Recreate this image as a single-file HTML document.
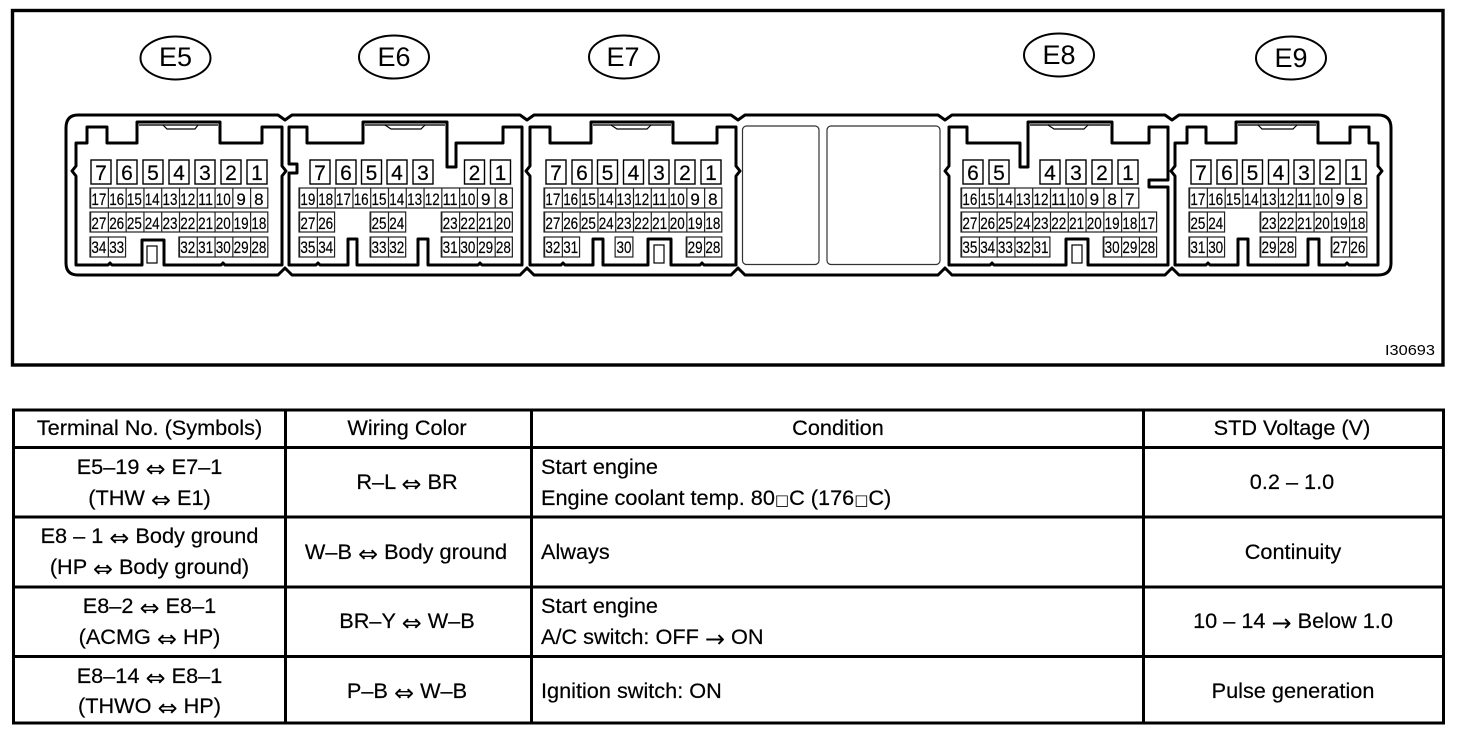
<!DOCTYPE html>
<html><head><meta charset="utf-8"><style>
html,body{margin:0;padding:0;background:#fff}
svg{display:block}
text{font-family:"Liberation Sans","DejaVu Sans",sans-serif;fill:#000}
.t text{font-size:21.7px;stroke:#000;stroke-width:.2}
.a{font-family:"DejaVu Sans",sans-serif;font-size:24px;baseline-shift:-3px;stroke-width:0}
.s{font-family:"DejaVu Sans",sans-serif;font-size:15px;stroke-width:0}
.m{text-anchor:middle}
.o{fill:none;stroke:#000;stroke-width:3;stroke-linejoin:round}
.b rect{fill:none;stroke:#000;stroke-width:1.4}
.b text{font-size:21px;text-anchor:middle;stroke:#000;stroke-width:.2}
.c rect{fill:none;stroke:#222;stroke-width:1.2}
.c path{fill:none;stroke:#222;stroke-width:20;stroke-dasharray:1.2 16.58}
.c text{font-size:17px;text-anchor:middle;stroke:#000;stroke-width:.2}
.k{fill:none;stroke:#000;stroke-width:1.2}
.l{font-size:27px;text-anchor:middle}
.e{fill:none;stroke:#000;stroke-width:2}
.g{fill:none;stroke:#555;stroke-width:2}
</style></head><body>
<svg width="1472" height="740" viewBox="0 0 1472 740" xmlns="http://www.w3.org/2000/svg">
<rect width="1472" height="740" fill="#fff"/>
<rect x="12.5" y="10.5" width="1430.5" height="354.5" fill="none" stroke="#000" stroke-width="3.4"/>
<ellipse class="e" cx="175.5" cy="58" rx="35" ry="21.5"/><text class="l" x="175.5" y="66">E5</text>
<ellipse class="e" cx="394" cy="57" rx="35" ry="21.5"/><text class="l" x="394" y="66">E6</text>
<ellipse class="e" cx="624" cy="57" rx="35" ry="21.5"/><text class="l" x="623" y="66">E7</text>
<ellipse class="e" cx="1059" cy="55" rx="35" ry="21.5"/><text class="l" x="1059" y="64">E8</text>
<ellipse class="e" cx="1291" cy="58" rx="35" ry="21.5"/><text class="l" x="1291" y="67">E9</text>
<text x="1385" y="355" font-size="15" textLength="50" lengthAdjust="spacingAndGlyphs">I30693</text>

<path class="o" d="M78 115H278L285 120L292 115H520L527 120L534 115H731L738 120L745 115H938L945 120L952 115H1165L1172 120L1179 115H1378Q1391 115 1391 128V263Q1391 275 1378 275H1179L1172 268L1165 275H952L945 268L938 275H745L738 268L731 275H534L527 268L520 275H292L285 268L278 275H78Q66 275 66 263V128Q66 115 78 115Z"/>

<!-- housings -->
<path class="o" d="M76 143H87V127H107V143H137V122H220V143H262V127H282V166L286 171L282 176V265H225L223 263L221 265H164V240H142V265H112L110 263L108 265H76V176L72 171L76 166Z"/>
<path class="o" d="M289 127H307V143H363V122H447V167H456V143H503V127H522V265H482L480 263L478 265H428V239H418V265H357V239H348V265H320L318 263L316 265H289V173H297V164H289Z"/>
<path class="o" d="M530 127H550V143H591V122H673V143H717V127H736V166L740 171L736 176V265H704L702 263L700 265H671V239H648V265H603V239H593V265H565L563 263L561 265H530V176L526 171L530 166Z"/>
<path class="o" d="M949 127H967V143H1020V167H1028V122H1112V143H1149V127H1168V180H1149V187H1168V265H1088V239H1066V265H994L992 263L990 265H949V176L945 171L949 166Z"/>
<path class="o" d="M1175 143H1187V127H1206V143H1236V122H1318V143H1350V127H1369V143H1378V166L1382 171L1378 176V265H1349L1347 263L1345 265H1319V239H1308V265H1248V239H1238V265H1210L1208 263L1206 265H1175V176L1171 171L1175 166Z"/>
<g class="g">
<path d="M139 125H218"/><path d="M365 125H445"/><path d="M593 125H671"/><path d="M1030 125H1110"/><path d="M1238 125H1316"/>
</g>
<g class="k">
<path d="M163 125L167 129H195L198 125"/><path d="M385 125L391 129H421L425 125"/><path d="M611 125L617 129H647L651 125"/><path d="M1048 125L1054 129H1084L1088 125"/><path d="M1258 125L1262 129H1293L1297 125"/>
<rect x="147" y="246" width="10" height="17"/><rect x="654" y="245" width="10" height="18"/><rect x="1072" y="245" width="10" height="18"/>
<rect x="742.5" y="126" width="76.5" height="138.5" rx="4" stroke="#333"/><rect x="827" y="126" width="113" height="138.5" rx="4" stroke="#333"/>
</g>

<!-- large pins -->
<g class="b">
<rect x="91" y="160" width="20" height="24"/><rect x="117" y="160" width="20" height="24"/><rect x="143" y="160" width="20" height="24"/><rect x="169" y="160" width="20" height="24"/><rect x="195" y="160" width="20" height="24"/><rect x="221" y="160" width="20" height="24"/><rect x="247" y="160" width="20" height="24"/>
<text x="101" y="180">7</text><text x="127" y="180">6</text><text x="153" y="180">5</text><text x="179" y="180">4</text><text x="205" y="180">3</text><text x="231" y="180">2</text><text x="257" y="180">1</text>
<rect x="310" y="160" width="20" height="24"/><rect x="336" y="160" width="20" height="24"/><rect x="361.500" y="160" width="20" height="24"/><rect x="387" y="160" width="20" height="24"/><rect x="413" y="160" width="20" height="24"/><rect x="464.500" y="160" width="20" height="24"/><rect x="490.500" y="160" width="20" height="24"/>
<text x="320" y="180">7</text><text x="346" y="180">6</text><text x="371.500" y="180">5</text><text x="397" y="180">4</text><text x="423" y="180">3</text><text x="474.500" y="180">2</text><text x="500.500" y="180">1</text>
<rect x="546" y="160" width="20" height="24"/><rect x="572" y="160" width="20" height="24"/><rect x="597.500" y="160" width="20" height="24"/><rect x="623.500" y="160" width="20" height="24"/><rect x="649" y="160" width="20" height="24"/><rect x="675" y="160" width="20" height="24"/><rect x="701" y="160" width="20" height="24"/>
<text x="556" y="180">7</text><text x="582" y="180">6</text><text x="607.500" y="180">5</text><text x="633.500" y="180">4</text><text x="659" y="180">3</text><text x="685" y="180">2</text><text x="711" y="180">1</text>
<rect x="963" y="160" width="20" height="24"/><rect x="989" y="160" width="20" height="24"/><rect x="1040" y="160" width="20" height="24"/><rect x="1066" y="160" width="20" height="24"/><rect x="1092" y="160" width="20" height="24"/><rect x="1118" y="160" width="20" height="24"/>
<text x="973" y="180">6</text><text x="999" y="180">5</text><text x="1050" y="180">4</text><text x="1076" y="180">3</text><text x="1102" y="180">2</text><text x="1128" y="180">1</text>
<rect x="1191" y="160" width="20" height="24"/><rect x="1217" y="160" width="20" height="24"/><rect x="1242.500" y="160" width="20" height="24"/><rect x="1268.500" y="160" width="20" height="24"/><rect x="1294" y="160" width="20" height="24"/><rect x="1320" y="160" width="20" height="24"/><rect x="1346" y="160" width="20" height="24"/>
<text x="1201" y="180">7</text><text x="1227" y="180">6</text><text x="1252.500" y="180">5</text><text x="1278.500" y="180">4</text><text x="1304" y="180">3</text><text x="1330" y="180">2</text><text x="1356" y="180">1</text>
</g>

<!-- E5 small pins -->
<g class="c" transform="translate(90 0)">
<rect y="188" width="177.800" height="20"/><path d="M0 198h177.800"/>
<rect y="212" width="177.800" height="20"/><path d="M0 222h177.800"/>
<rect y="237" width="35.560" height="20"/><path d="M0 247h35.560"/>
<rect x="88.900" y="237" width="88.900" height="20"/><path d="M88.900 247h88.900"/>
<text x="8.900" y="205" textLength="15" lengthAdjust="spacingAndGlyphs">17</text><text x="26.700" y="205" textLength="15" lengthAdjust="spacingAndGlyphs">16</text><text x="44.400" y="205" textLength="15" lengthAdjust="spacingAndGlyphs">15</text><text x="62.200" y="205" textLength="15" lengthAdjust="spacingAndGlyphs">14</text><text x="80" y="205" textLength="15" lengthAdjust="spacingAndGlyphs">13</text><text x="97.800" y="205" textLength="15" lengthAdjust="spacingAndGlyphs">12</text><text x="115.600" y="205" textLength="15" lengthAdjust="spacingAndGlyphs">11</text><text x="133.300" y="205" textLength="15" lengthAdjust="spacingAndGlyphs">10</text><text x="151.100" y="205">9</text><text x="168.900" y="205">8</text>
<text x="8.900" y="229" textLength="15" lengthAdjust="spacingAndGlyphs">27</text><text x="26.700" y="229" textLength="15" lengthAdjust="spacingAndGlyphs">26</text><text x="44.400" y="229" textLength="15" lengthAdjust="spacingAndGlyphs">25</text><text x="62.200" y="229" textLength="15" lengthAdjust="spacingAndGlyphs">24</text><text x="80" y="229" textLength="15" lengthAdjust="spacingAndGlyphs">23</text><text x="97.800" y="229" textLength="15" lengthAdjust="spacingAndGlyphs">22</text><text x="115.600" y="229" textLength="15" lengthAdjust="spacingAndGlyphs">21</text><text x="133.300" y="229" textLength="15" lengthAdjust="spacingAndGlyphs">20</text><text x="151.100" y="229" textLength="15" lengthAdjust="spacingAndGlyphs">19</text><text x="168.900" y="229" textLength="15" lengthAdjust="spacingAndGlyphs">18</text>
<text x="8.900" y="253" textLength="15" lengthAdjust="spacingAndGlyphs">34</text><text x="26.700" y="253" textLength="15" lengthAdjust="spacingAndGlyphs">33</text><text x="97.800" y="253" textLength="15" lengthAdjust="spacingAndGlyphs">32</text><text x="115.600" y="253" textLength="15" lengthAdjust="spacingAndGlyphs">31</text><text x="133.300" y="253" textLength="15" lengthAdjust="spacingAndGlyphs">30</text><text x="151.100" y="253" textLength="15" lengthAdjust="spacingAndGlyphs">29</text><text x="168.900" y="253" textLength="15" lengthAdjust="spacingAndGlyphs">28</text>
</g>

<!-- E6 small pins -->
<g class="c" transform="translate(299 0)">
<rect y="188" width="213.360" height="20"/><path d="M0 198h213.360"/>
<rect y="212" width="35.560" height="20"/><path d="M0 222h35.560"/>
<rect x="71.120" y="212" width="35.560" height="20"/><path d="M71.120 222h35.560"/>
<rect x="142.240" y="212" width="71.120" height="20"/><path d="M142.240 222h71.120"/>
<rect y="237" width="35.560" height="20"/><path d="M0 247h35.560"/>
<rect x="71.120" y="237" width="35.560" height="20"/><path d="M71.120 247h35.560"/>
<rect x="142.240" y="237" width="71.120" height="20"/><path d="M142.240 247h71.120"/>
<text x="8.900" y="205" textLength="15" lengthAdjust="spacingAndGlyphs">19</text><text x="26.700" y="205" textLength="15" lengthAdjust="spacingAndGlyphs">18</text><text x="44.400" y="205" textLength="15" lengthAdjust="spacingAndGlyphs">17</text><text x="62.200" y="205" textLength="15" lengthAdjust="spacingAndGlyphs">16</text><text x="80" y="205" textLength="15" lengthAdjust="spacingAndGlyphs">15</text><text x="97.800" y="205" textLength="15" lengthAdjust="spacingAndGlyphs">14</text><text x="115.600" y="205" textLength="15" lengthAdjust="spacingAndGlyphs">13</text><text x="133.300" y="205" textLength="15" lengthAdjust="spacingAndGlyphs">12</text><text x="151.100" y="205" textLength="15" lengthAdjust="spacingAndGlyphs">11</text><text x="168.900" y="205" textLength="15" lengthAdjust="spacingAndGlyphs">10</text><text x="186.700" y="205">9</text><text x="204.400" y="205">8</text>
<text x="8.900" y="229" textLength="15" lengthAdjust="spacingAndGlyphs">27</text><text x="26.700" y="229" textLength="15" lengthAdjust="spacingAndGlyphs">26</text><text x="80" y="229" textLength="15" lengthAdjust="spacingAndGlyphs">25</text><text x="97.800" y="229" textLength="15" lengthAdjust="spacingAndGlyphs">24</text><text x="151.100" y="229" textLength="15" lengthAdjust="spacingAndGlyphs">23</text><text x="168.900" y="229" textLength="15" lengthAdjust="spacingAndGlyphs">22</text><text x="186.700" y="229" textLength="15" lengthAdjust="spacingAndGlyphs">21</text><text x="204.400" y="229" textLength="15" lengthAdjust="spacingAndGlyphs">20</text>
<text x="8.900" y="253" textLength="15" lengthAdjust="spacingAndGlyphs">35</text><text x="26.700" y="253" textLength="15" lengthAdjust="spacingAndGlyphs">34</text><text x="80" y="253" textLength="15" lengthAdjust="spacingAndGlyphs">33</text><text x="97.800" y="253" textLength="15" lengthAdjust="spacingAndGlyphs">32</text><text x="151.100" y="253" textLength="15" lengthAdjust="spacingAndGlyphs">31</text><text x="168.900" y="253" textLength="15" lengthAdjust="spacingAndGlyphs">30</text><text x="186.700" y="253" textLength="15" lengthAdjust="spacingAndGlyphs">29</text><text x="204.400" y="253" textLength="15" lengthAdjust="spacingAndGlyphs">28</text>
</g>

<!-- E7 small pins -->
<g class="c" transform="translate(544 0)">
<rect y="188" width="177.800" height="20"/><path d="M0 198h177.800"/>
<rect y="212" width="177.800" height="20"/><path d="M0 222h177.800"/>
<rect y="237" width="35.560" height="20"/><path d="M0 247h35.560"/>
<rect x="71.120" y="237" width="17.780" height="20"/>
<rect x="142.240" y="237" width="35.560" height="20"/><path d="M142.240 247h35.560"/>
<text x="8.900" y="205" textLength="15" lengthAdjust="spacingAndGlyphs">17</text><text x="26.700" y="205" textLength="15" lengthAdjust="spacingAndGlyphs">16</text><text x="44.400" y="205" textLength="15" lengthAdjust="spacingAndGlyphs">15</text><text x="62.200" y="205" textLength="15" lengthAdjust="spacingAndGlyphs">14</text><text x="80" y="205" textLength="15" lengthAdjust="spacingAndGlyphs">13</text><text x="97.800" y="205" textLength="15" lengthAdjust="spacingAndGlyphs">12</text><text x="115.600" y="205" textLength="15" lengthAdjust="spacingAndGlyphs">11</text><text x="133.300" y="205" textLength="15" lengthAdjust="spacingAndGlyphs">10</text><text x="151.100" y="205">9</text><text x="168.900" y="205">8</text>
<text x="8.900" y="229" textLength="15" lengthAdjust="spacingAndGlyphs">27</text><text x="26.700" y="229" textLength="15" lengthAdjust="spacingAndGlyphs">26</text><text x="44.400" y="229" textLength="15" lengthAdjust="spacingAndGlyphs">25</text><text x="62.200" y="229" textLength="15" lengthAdjust="spacingAndGlyphs">24</text><text x="80" y="229" textLength="15" lengthAdjust="spacingAndGlyphs">23</text><text x="97.800" y="229" textLength="15" lengthAdjust="spacingAndGlyphs">22</text><text x="115.600" y="229" textLength="15" lengthAdjust="spacingAndGlyphs">21</text><text x="133.300" y="229" textLength="15" lengthAdjust="spacingAndGlyphs">20</text><text x="151.100" y="229" textLength="15" lengthAdjust="spacingAndGlyphs">19</text><text x="168.900" y="229" textLength="15" lengthAdjust="spacingAndGlyphs">18</text>
<text x="8.900" y="253" textLength="15" lengthAdjust="spacingAndGlyphs">32</text><text x="26.700" y="253" textLength="15" lengthAdjust="spacingAndGlyphs">31</text><text x="80" y="253" textLength="15" lengthAdjust="spacingAndGlyphs">30</text><text x="151.100" y="253" textLength="15" lengthAdjust="spacingAndGlyphs">29</text><text x="168.900" y="253" textLength="15" lengthAdjust="spacingAndGlyphs">28</text>
</g>

<!-- E8 small pins -->
<g class="c" transform="translate(961 0)">
<rect y="188" width="177.800" height="20"/><path d="M0 198h177.800"/>
<rect y="212" width="195.580" height="20"/><path d="M0 222h195.580"/>
<rect y="237" width="88.900" height="20"/><path d="M0 247h88.900"/>
<rect x="142.240" y="237" width="53.340" height="20"/><path d="M142.240 247h53.340"/>
<text x="8.900" y="205" textLength="15" lengthAdjust="spacingAndGlyphs">16</text><text x="26.700" y="205" textLength="15" lengthAdjust="spacingAndGlyphs">15</text><text x="44.400" y="205" textLength="15" lengthAdjust="spacingAndGlyphs">14</text><text x="62.200" y="205" textLength="15" lengthAdjust="spacingAndGlyphs">13</text><text x="80" y="205" textLength="15" lengthAdjust="spacingAndGlyphs">12</text><text x="97.800" y="205" textLength="15" lengthAdjust="spacingAndGlyphs">11</text><text x="115.600" y="205" textLength="15" lengthAdjust="spacingAndGlyphs">10</text><text x="133.300" y="205">9</text><text x="151.100" y="205">8</text><text x="168.900" y="205">7</text>
<text x="8.900" y="229" textLength="15" lengthAdjust="spacingAndGlyphs">27</text><text x="26.700" y="229" textLength="15" lengthAdjust="spacingAndGlyphs">26</text><text x="44.400" y="229" textLength="15" lengthAdjust="spacingAndGlyphs">25</text><text x="62.200" y="229" textLength="15" lengthAdjust="spacingAndGlyphs">24</text><text x="80" y="229" textLength="15" lengthAdjust="spacingAndGlyphs">23</text><text x="97.800" y="229" textLength="15" lengthAdjust="spacingAndGlyphs">22</text><text x="115.600" y="229" textLength="15" lengthAdjust="spacingAndGlyphs">21</text><text x="133.300" y="229" textLength="15" lengthAdjust="spacingAndGlyphs">20</text><text x="151.100" y="229" textLength="15" lengthAdjust="spacingAndGlyphs">19</text><text x="168.900" y="229" textLength="15" lengthAdjust="spacingAndGlyphs">18</text><text x="186.700" y="229" textLength="15" lengthAdjust="spacingAndGlyphs">17</text>
<text x="8.900" y="253" textLength="15" lengthAdjust="spacingAndGlyphs">35</text><text x="26.700" y="253" textLength="15" lengthAdjust="spacingAndGlyphs">34</text><text x="44.400" y="253" textLength="15" lengthAdjust="spacingAndGlyphs">33</text><text x="62.200" y="253" textLength="15" lengthAdjust="spacingAndGlyphs">32</text><text x="80" y="253" textLength="15" lengthAdjust="spacingAndGlyphs">31</text><text x="151.100" y="253" textLength="15" lengthAdjust="spacingAndGlyphs">30</text><text x="168.900" y="253" textLength="15" lengthAdjust="spacingAndGlyphs">29</text><text x="186.700" y="253" textLength="15" lengthAdjust="spacingAndGlyphs">28</text>
</g>

<!-- E9 small pins -->
<g class="c" transform="translate(1189 0)">
<rect y="188" width="177.800" height="20"/><path d="M0 198h177.800"/>
<rect y="212" width="35.560" height="20"/><path d="M0 222h35.560"/>
<rect x="71.120" y="212" width="106.680" height="20"/><path d="M71.120 222h106.680"/>
<rect y="237" width="35.560" height="20"/><path d="M0 247h35.560"/>
<rect x="71.120" y="237" width="35.560" height="20"/><path d="M71.120 247h35.560"/>
<rect x="142.240" y="237" width="35.560" height="20"/><path d="M142.240 247h35.560"/>
<text x="8.900" y="205" textLength="15" lengthAdjust="spacingAndGlyphs">17</text><text x="26.700" y="205" textLength="15" lengthAdjust="spacingAndGlyphs">16</text><text x="44.400" y="205" textLength="15" lengthAdjust="spacingAndGlyphs">15</text><text x="62.200" y="205" textLength="15" lengthAdjust="spacingAndGlyphs">14</text><text x="80" y="205" textLength="15" lengthAdjust="spacingAndGlyphs">13</text><text x="97.800" y="205" textLength="15" lengthAdjust="spacingAndGlyphs">12</text><text x="115.600" y="205" textLength="15" lengthAdjust="spacingAndGlyphs">11</text><text x="133.300" y="205" textLength="15" lengthAdjust="spacingAndGlyphs">10</text><text x="151.100" y="205">9</text><text x="168.900" y="205">8</text>
<text x="8.900" y="229" textLength="15" lengthAdjust="spacingAndGlyphs">25</text><text x="26.700" y="229" textLength="15" lengthAdjust="spacingAndGlyphs">24</text><text x="80" y="229" textLength="15" lengthAdjust="spacingAndGlyphs">23</text><text x="97.800" y="229" textLength="15" lengthAdjust="spacingAndGlyphs">22</text><text x="115.600" y="229" textLength="15" lengthAdjust="spacingAndGlyphs">21</text><text x="133.300" y="229" textLength="15" lengthAdjust="spacingAndGlyphs">20</text><text x="151.100" y="229" textLength="15" lengthAdjust="spacingAndGlyphs">19</text><text x="168.900" y="229" textLength="15" lengthAdjust="spacingAndGlyphs">18</text>
<text x="8.900" y="253" textLength="15" lengthAdjust="spacingAndGlyphs">31</text><text x="26.700" y="253" textLength="15" lengthAdjust="spacingAndGlyphs">30</text><text x="80" y="253" textLength="15" lengthAdjust="spacingAndGlyphs">29</text><text x="97.800" y="253" textLength="15" lengthAdjust="spacingAndGlyphs">28</text><text x="151.100" y="253" textLength="15" lengthAdjust="spacingAndGlyphs">27</text><text x="168.900" y="253" textLength="15" lengthAdjust="spacingAndGlyphs">26</text>
</g>

<!-- table -->
<g fill="none" stroke="#000" stroke-width="3">
<rect x="13.500" y="410" width="1430" height="313"/>
<path d="M13 447.500H1443M13 517H1443M13 587H1443M13 656.500H1443M285.500 410V723M531.500 410V723M1143.500 410V723"/>
</g>
<g class="t">
<text class="m" x="149.500" y="435">Terminal No. (Symbols)</text>
<text class="m" x="407" y="435">Wiring Color</text>
<text class="m" x="838" y="435">Condition</text>
<text class="m" x="1292" y="435">STD Voltage (V)</text>

<text class="m" x="149.500" y="474">E5–19 <tspan class="a">⇔</tspan> E7–1</text>
<text class="m" x="149.500" y="505">(THW <tspan class="a">⇔</tspan> E1)</text>
<text class="m" x="407" y="489">R–L <tspan class="a">⇔</tspan> BR</text>
<text x="541" y="474">Start engine</text>
<text x="541" y="505">Engine coolant temp. 80<tspan class="s">□</tspan>C (176<tspan class="s">□</tspan>C)</text>
<text class="m" x="1292" y="489">0.2 – 1.0</text>

<text class="m" x="149.500" y="543">E8 – 1 <tspan class="a">⇔</tspan> Body ground</text>
<text class="m" x="149.500" y="574">(HP <tspan class="a">⇔</tspan> Body ground)</text>
<text class="m" x="406" y="559">W–B <tspan class="a">⇔</tspan> Body ground</text>
<text x="541" y="559">Always</text>
<text class="m" x="1293" y="559">Continuity</text>

<text class="m" x="149.500" y="613">E8–2 <tspan class="a">⇔</tspan> E8–1</text>
<text class="m" x="149.500" y="644">(ACMG <tspan class="a">⇔</tspan> HP)</text>
<text class="m" x="407" y="628">BR–Y <tspan class="a">⇔</tspan> W–B</text>
<text x="541" y="613">Start engine</text>
<text x="541" y="644">A/C switch: OFF <tspan class="a">→</tspan> ON</text>
<text class="m" x="1293" y="628">10 – 14 <tspan class="a">→</tspan> Below 1.0</text>

<text class="m" x="149.500" y="683">E8–14 <tspan class="a">⇔</tspan> E8–1</text>
<text class="m" x="149.500" y="713">(THWO <tspan class="a">⇔</tspan> HP)</text>
<text class="m" x="407" y="698">P–B <tspan class="a">⇔</tspan> W–B</text>
<text x="541" y="698">Ignition switch: ON</text>
<text class="m" x="1293" y="698">Pulse generation</text>
</g>
</svg>
</body></html>
